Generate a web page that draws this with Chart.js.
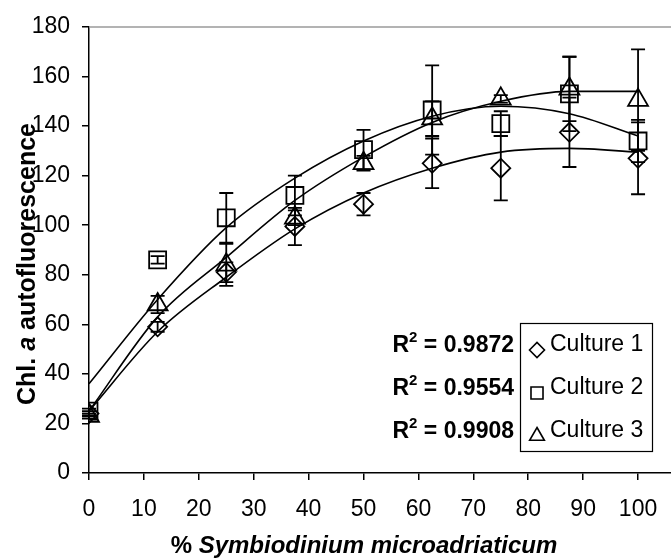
<!DOCTYPE html>
<html>
<head>
<meta charset="utf-8">
<script src="https://cdn.jsdelivr.net/npm/chart.js@4/dist/chart.umd.min.js"></script>
<style>
  html, body { margin: 0; padding: 0; background: #fff; }
  canvas { display: block; }
</style>
</head>
<body>
<canvas id="chart" width="671" height="558"></canvas>
<script>
// % Symbiodinium in the mix
const xPct = [0, 12.5, 25, 37.5, 50, 62.5, 75, 87.5, 100];
const xTicks = [0, 10, 20, 30, 40, 50, 60, 70, 80, 90, 100];

// measured autofluorescence (means) and error bars
const culture1 = [24, 59, 81, 99.5, 108.5, 125, 123, 137.5, 127];
const culture2 = [25, 86, 103, 112, 130.5, 146.5, 141, 153, 134];
const culture3 = [23, 68, 84, 103, 125, 143, 151, 155, 150.5];
const err1 = [1, 2, 4, 7.5, 4.5, 10, 13, 14, 14.5];
const err2 = [1, 1.5, 10, 8, 8, 18, 5, 15, 8.5];
const err3 = [1, 3.5, 8.5, 3, 3, 7, 1.5, 13, 20.5];

// trendline values
const trend1 = [25, 57, 79, 98.5, 113, 123, 129.5, 131, 129.5];
const trend2 = [36, 70, 99, 119, 134, 144, 148, 145, 136];
const trend3 = [25, 63, 87, 110, 127.5, 141.5, 150, 154, 154];

const r2Labels = ['0.9872', '0.9554', '0.9908'];
const cultureNames = ['Culture 1', 'Culture 2', 'Culture 3'];

const FONT = "'Liberation Sans', Arial, sans-serif";
const X_MAX = 106;

const pts = (ys) => xPct.map((x, i) => ({ x: x, y: ys[i] }));

const markerStyles = [
    { pointStyle: 'rectRot', radius: 9.5 },
    { pointStyle: 'rect', radius: 12 },
    { pointStyle: 'triangle', radius: 11.5 }
];

function markerSet(label, ys, m) {
    return {
        label: label,
        data: pts(ys),
        showLine: false,
        pointStyle: m.pointStyle,
        pointRadius: m.radius,
        pointBorderWidth: 1.8,
        pointBorderColor: '#000',
        pointBackgroundColor: 'rgba(0,0,0,0)'
    };
}

function trendSet(ys) {
    return {
        label: 'trend',
        data: pts(ys),
        showLine: true,
        borderColor: '#000',
        borderWidth: 1.6,
        pointRadius: 0,
        cubicInterpolationMode: 'monotone',
        fill: false
    };
}

// draw mixed-style text pieces in a row
function drawParts(ctx, parts, x, y, align) {
    let total = 0;
    parts.forEach(p => { ctx.font = p[0]; total += ctx.measureText(p[1]).width; });
    let cx = align === 'center' ? x - total / 2 : (align === 'right' ? x - total : x);
    parts.forEach(p => {
        ctx.font = p[0];
        ctx.fillText(p[1], cx, y + (p[2] || 0));
        cx += ctx.measureText(p[1]).width;
    });
}

const overlay = {
    id: 'overlay',
    beforeDatasetsDraw(chart) {
        const { ctx, chartArea, scales: { x, y } } = chart;
        ctx.save();
        // grey plot border on top
        ctx.strokeStyle = '#9a9a9a';
        ctx.lineWidth = 1.5;
        ctx.beginPath();
        ctx.moveTo(chartArea.left, chartArea.top);
        ctx.lineTo(chartArea.right, chartArea.top);
        ctx.stroke();

        // error bars
        ctx.strokeStyle = '#000';
        ctx.lineWidth = 1.8;
        [[culture1, err1], [culture2, err2], [culture3, err3]].forEach(([vals, errs]) => {
            vals.forEach((v, i) => {
                const px = x.getPixelForValue(xPct[i]);
                const top = y.getPixelForValue(v + errs[i]);
                const bot = y.getPixelForValue(v - errs[i]);
                ctx.beginPath();
                ctx.moveTo(px, top); ctx.lineTo(px, bot);
                ctx.moveTo(px - 7, top); ctx.lineTo(px + 7, top);
                ctx.moveTo(px - 7, bot); ctx.lineTo(px + 7, bot);
                ctx.stroke();
            });
        });
        ctx.restore();
    },
    afterDraw(chart) {
        const ctx = chart.ctx;
        ctx.save();
        ctx.fillStyle = '#000';

        // x axis title
        ctx.textBaseline = 'middle';
        drawParts(ctx, [
            ['bold 24px ' + FONT, '% '],
            ['italic bold 24px ' + FONT, 'Symbiodinium microadriaticum']
        ], 364, 546, 'center');

        // y axis title
        ctx.save();
        ctx.translate(35, 264);
        ctx.rotate(-Math.PI / 2);
        ctx.textBaseline = 'alphabetic';
        drawParts(ctx, [
            ['bold 25px ' + FONT, 'Chl. '],
            ['italic bold 25px ' + FONT, 'a'],
            ['bold 25px ' + FONT, ' autofluorescence']
        ], 0, 0, 'center');
        ctx.restore();

        // legend box
        const rows = [345, 388, 431];
        ctx.strokeStyle = '#000';
        ctx.lineWidth = 1.2;
        ctx.strokeRect(520.5, 323.5, 132, 128);
        ctx.textBaseline = 'middle';
        ctx.textAlign = 'left';
        const legendMarks = [
            { pointStyle: 'rectRot', radius: 7.5 },
            { pointStyle: 'rect', radius: 8.5 },
            { pointStyle: 'triangle', radius: 8.5 }
        ];
        rows.forEach((ry, i) => {
            ctx.fillStyle = 'rgba(0,0,0,0)';
            ctx.lineWidth = 1.6;
            Chart.helpers.drawPoint(ctx, {
                pointStyle: legendMarks[i].pointStyle,
                radius: legendMarks[i].radius,
                borderWidth: 1.6
            }, 537, ry + 5);
            ctx.fillStyle = '#000';
            ctx.font = '23px ' + FONT;
            ctx.fillText(cultureNames[i], 550, ry);
        });

        // R squared labels
        rows.forEach((ry, i) => {
            drawParts(ctx, [
                ['bold 23px ' + FONT, 'R'],
                ['bold 15px ' + FONT, '2', -8],
                ['bold 23px ' + FONT, ' = ' + r2Labels[i]]
            ], 514, ry + 1, 'right');
        });
        ctx.restore();
    }
};

const ctx = document.getElementById('chart').getContext('2d');
new Chart(ctx, {
    type: 'scatter',
    data: {
        datasets: [
            markerSet(cultureNames[0], culture1, markerStyles[0]),
            markerSet(cultureNames[1], culture2, markerStyles[1]),
            markerSet(cultureNames[2], culture3, markerStyles[2]),
            trendSet(trend1),
            trendSet(trend2),
            trendSet(trend3)
        ]
    },
    options: {
        responsive: false,
        animation: false,
        layout: { autoPadding: false, padding: { top: 27, right: 0, left: 0, bottom: 0 } },
        plugins: {
            legend: { display: false },
            tooltip: { enabled: false }
        },
        scales: {
            x: {
                type: 'linear',
                min: 0,
                max: X_MAX,
                // the axis runs past 100 (cut off at the picture edge); last tick is blank
                afterBuildTicks: (s) => {
                    s.ticks = xTicks.map(v => ({ value: v })).concat([{ value: X_MAX }]);
                },
                afterFit: (s) => {
                    s.height = 85;
                    s.paddingRight = 0;
                    s.paddingLeft = 0;
                },
                ticks: {
                    color: '#000',
                    padding: 16,
                    maxRotation: 0,
                    autoSkip: false,
                    callback: (v) => (v > 100 ? '' : v),
                    font: { family: FONT, size: 23 }
                },
                grid: {
                    drawOnChartArea: false,
                    drawTicks: true,
                    tickLength: 7,
                    color: (c) => (c.tick && c.tick.value > 100 ? 'rgba(0,0,0,0)' : '#000'),
                    lineWidth: 1.5
                },
                border: { color: '#000', width: 1.5 }
            },
            y: {
                min: 0,
                max: 180,
                afterFit: (s) => { s.width = 89; },
                ticks: {
                    stepSize: 20,
                    color: '#000',
                    padding: 12,
                    font: { family: FONT, size: 23 }
                },
                grid: { drawOnChartArea: false, drawTicks: true, tickLength: 7, color: '#000', lineWidth: 1.5 },
                border: { color: '#000', width: 1.5 }
            }
        }
    },
    plugins: [overlay]
});
</script>
</body>
</html>
